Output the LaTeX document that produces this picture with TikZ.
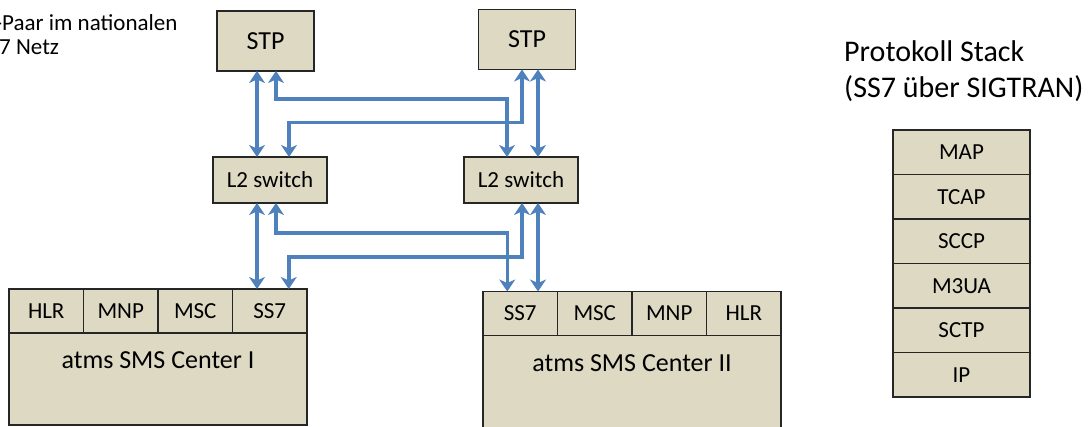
\documentclass[tikz,border=0pt]{standalone}
\usepackage{fontspec}
\setmainfont{Carlito}
\usetikzlibrary{positioning,arrows.meta}
\definecolor{boxfill}{RGB}{221,217,195}
\definecolor{boxline}{RGB}{38,38,38}
\definecolor{linkblue}{RGB}{79,129,189}
\tikzset{
    unit/.style={draw=boxline, fill=boxfill, line width=1.5pt, inner sep=0pt, outer sep=0pt},
    stpbox/.style={unit, minimum width=97pt, minimum height=60pt, font=\fontsize{26}{30}\selectfont},
    switchbox/.style={unit, minimum width=114pt, minimum height=46pt, font=\fontsize{23}{27}\selectfont},
    cell/.style={unit, minimum width=74.5pt, minimum height=44pt, font=\fontsize{23}{27}\selectfont},
    centerbox/.style={unit, anchor=north west, minimum width=298pt, text height=36pt, font=\fontsize{26}{30}\selectfont},
    layer/.style={unit, minimum width=137pt, minimum height=44.5pt, font=\fontsize{23}{27}\selectfont},
    link/.style={draw=linkblue, line width=3.5pt, {Stealth[length=12pt,width=16pt,inset=3.5pt]}-{Stealth[length=12pt,width=16pt,inset=3.5pt]}}
}
\begin{document}
\begin{tikzpicture}[x=1pt, y=-1pt]
    \useasboundingbox (0, 0) rectangle (1092, 427);
    \node[anchor=base west, inner sep=0pt, font=\fontsize{23}{25}\selectfont] (note1) at (-5, 31) {-Paar im nationalen};
    \node[anchor=base west, inner sep=0pt, font=\fontsize{23}{25}\selectfont] (note2) at (-1, 55) {7 Netz};

    \node[stpbox] (stpL) at (265.5, 41) {STP};
    \node[stpbox] (stpR) at (527, 39.5) {STP};
    \node[switchbox] (swL) at (270, 180) {L2 switch};
    \node[switchbox] (swR) at (521, 180) {L2 switch};

    \node[cell] (hlrL) at (46.25, 311) {HLR};
    \node[cell, right=0pt of hlrL] (mnpL) {MNP};
    \node[cell, right=0pt of mnpL] (mscL) {MSC};
    \node[cell, right=0pt of mscL] (ssL) {SS7};
    \node[centerbox, text depth=56pt] (smsL) at (hlrL.south west) {atms SMS Center I};

    \node[cell] (ssR) at (520.25, 313.5) {SS7};
    \node[cell, right=0pt of ssR] (mscR) {MSC};
    \node[cell, right=0pt of mscR] (mnpR) {MNP};
    \node[cell, right=0pt of mnpR] (hlrR) {HLR};
    \node[centerbox, text depth=72pt] (smsR) at (ssR.south west) {atms SMS Center II};

    \draw[link] ([xshift=-8.5pt]stpL.south) -- ([xshift=-8.5pt]stpL.south |- swL.north);
    \draw[link] ([xshift=10.5pt]stpL.south) -- ++(0, 28) -| ([xshift=-14pt]swR.north);
    \draw[link] ([xshift=-5pt]stpR.south) -- ++(0, 53) -| ([xshift=19pt]swL.north);
    \draw[link] ([xshift=11pt]stpR.south) -- ([xshift=11pt]stpR.south |- swR.north);
    \draw[link] ([xshift=-13pt]swL.south) -- ([xshift=-13pt]swL.south |- ssL.north);
    \draw[link] ([xshift=6pt]swL.south) -- ++(0, 30) -| ([xshift=-13pt]ssR.north);
    \draw[link] ([xshift=1pt]swR.south) -- ++(0, 54) -| ([xshift=19pt]ssL.north);
    \draw[link] ([xshift=17pt]swR.south) -- ([xshift=17pt]swR.south |- ssR.north);

    \node[anchor=base west, inner sep=0pt, font=\fontsize{30}{36}\selectfont] (title1) at (844, 62) {Protokoll Stack};
    \node[anchor=base west, inner sep=0pt, font=\fontsize{30}{36}\selectfont] (title2) at (844, 98) {(SS7 über SIGTRAN)};
    \node[layer] (map) at (961.5, 152.25) {MAP};
    \node[layer, below=0pt of map] (tcap) {TCAP};
    \node[layer, below=0pt of tcap] (sccp) {SCCP};
    \node[layer, below=0pt of sccp] (m3ua) {M3UA};
    \node[layer, below=0pt of m3ua] (sctp) {SCTP};
    \node[layer, below=0pt of sctp] (ip) {IP};
\end{tikzpicture}
\end{document}
